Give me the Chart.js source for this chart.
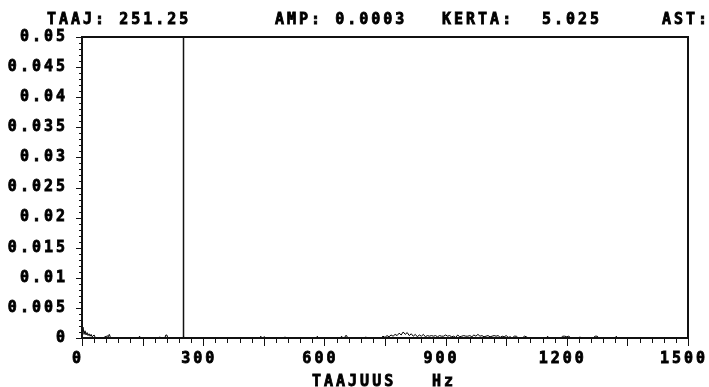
<!DOCTYPE html>
<html><head><meta charset="utf-8">
<script src="https://cdn.jsdelivr.net/npm/chart.js@4.4.0/dist/chart.umd.min.js"></script>
<style>html,body{margin:0;padding:0;background:#fff;}#wrap{width:709px;height:387px;}</style>
</head><body><div id="wrap"><canvas id="c" width="709" height="387"></canvas></div>
<script>
// ---- data ----
const freqs = [0,2.5,5,7.5,10,12.5,15,17.5,20,22.5,25,30,32.5,35,
  55,57.5,60,62.5,65,67.5,70,72.5,
  140,142.5,145,
  190,192.5,195,205,207.5,210,212.5,
  250,251.25,252.5,
  440,442.5,445,452.5,455,
  500,502.5,505,
  580,582.5,585,640,642.5,645,650,652.5,655,657.5,
  700,702.5,705,
  740,745,750,755,760,765,770,775,780,785,790,795,800,805,810,815,820,825,830,835,840,845,850,855,860,865,870,875,880,885,890,895,900,905,910,915,920,925,930,935,940,945,950,955,960,965,970,975,980,985,990,995,1000,1005,1010,1015,1020,1025,1030,1035,1040,1045,1050,1055,1060,1065,1070,1075,1080,
  1090,1095,1100,1105,
  1150,1152.5,1155,
  1185,1190,1195,1200,1205,1210,
  1230,1232.5,1235,
  1265,1270,1275,1280,
  1320,1322.5,1325,
  1500];
const amps = [0.0003,0.0018,0.0006,0.0012,0.0005,0.0009,0.0004,0.0007,0.0003,0.0006,0.0002,0.0005,0.0001,0,
  0,0.0003,0.0001,0.0004,0.0002,0.0006,0.0002,0,
  0,0.0003,0,
  0,0.0002,0,0,0.0005,0.0005,0,
  0,0.0003,0,
  0,0.0003,0,0.0002,0,
  0,0.0002,0,
  0,0.0003,0,0,0.0003,0,0,0.0004,0.0004,0,
  0,0.0002,0,
  0,0.0003,0.0001,0.0004,0.0002,0.0005,0.0003,0.0006,0.0004,0.0008,0.0005,0.001,0.0006,0.0009,0.0004,0.0007,0.0003,0.0006,0.0002,0.0005,0.0003,0.0006,0.0002,0.0004,0.0003,0.0004,0.0003,0.0004,0.0002,0.0004,0.0003,0.0003,0.0005,0.0003,0.0004,0.0002,0.0003,0.0001,0.0005,0.0002,0.0003,0.0004,0.0003,0.0003,0.0004,0.0002,0.0005,0.0003,0.0006,0.0003,0.0004,0.0002,0.0003,0.0004,0.0002,0.0003,0.0004,0.0003,0.0004,0.0001,0.0003,0.0002,0.0004,0.0001,0.0002,0,0.0003,0.0003,0,
  0,0.0003,0.0002,0,
  0,0.0003,0,
  0,0.0003,0.0003,0.0002,0.0003,0,
  0,0.0002,0,
  0,0.0003,0.0003,0,
  0,0.0003,0,
  0];
const cursorFreq = 251.25;
const cursorSpan = [0, 0.05];
const xTickValues = [0,300,600,900,1200,1500];
const xTickLabels = ['0','300','600','900','1200','1500'];
const yTickValues = [0,0.005,0.01,0.015,0.02,0.025,0.03,0.035,0.04,0.045,0.05];
const yTickLabels = ['0','0.005','0.01','0.015','0.02','0.025','0.03','0.035','0.04','0.045','0.05'];
const headerTexts = ['TAAJ: 251.25','AMP: 0.0003','KERTA:','5.025','AST:'];
const headerX = [47,275,442,542,662];
const xTitleTexts = ['TAAJUUS','Hz'];
const xTitleX = [312,432];

const FONT = 'bold 15px "DejaVu Sans Mono"';

const spectrum = freqs.map((f,i)=>({x:f,y:amps[i]}));
const cursor = cursorSpan.map(v=>({x:cursorFreq,y:v}));

const deco = {
  id:'deco',
  beforeDraw(chart){ chart.ctx.letterSpacing = '3px'; },
  afterDraw(chart){
    const ctx = chart.ctx, a = chart.chartArea;
    const xs = chart.scales.x, ys = chart.scales.y;
    ctx.save();
    ctx.strokeStyle = '#111';
    ctx.lineWidth = 1;
    for (let i=0;i<=50;i++){
      const py = Math.round(ys.getPixelForValue(i/1000)) + 0.5;
      const major = i%5===0;
      ctx.beginPath(); ctx.moveTo(major?76:79, py); ctx.lineTo(a.left+1, py); ctx.stroke();
    }
    for (let i=0;i<=50;i++){
      const px = Math.round(xs.getPixelForValue(i*30)) + 0.5;
      const major = (i*30)%150===0;
      ctx.beginPath(); ctx.moveTo(px, a.bottom-1); ctx.lineTo(px, a.bottom+(major?8:5)); ctx.stroke();
    }
    ctx.lineWidth = 2;
    ctx.strokeRect(a.left, a.top, a.right-a.left, a.bottom-a.top);
    ctx.fillStyle = '#000';
    ctx.strokeStyle = '#000';
    ctx.lineWidth = 0.8;
    ctx.font = FONT;
    ctx.letterSpacing = '3px';
    ctx.textAlign = 'left'; ctx.textBaseline = 'alphabetic';
    headerTexts.forEach((t,i)=>{ ctx.fillText(t, headerX[i], 24); ctx.strokeText(t, headerX[i], 24); });
    xTitleTexts.forEach((t,i)=>{ ctx.fillText(t, xTitleX[i], 386); ctx.strokeText(t, xTitleX[i], 386); });
    ctx.restore();
  }
};

new Chart(document.getElementById('c'), {
  type:'scatter',
  data:{datasets:[
    {data:spectrum, showLine:true, borderColor:'#000', borderWidth:1, pointRadius:0, tension:0},
    {data:cursor, showLine:true, borderColor:'#111', borderWidth:1.5, pointRadius:0}
  ]},
  options:{
    responsive:false, animation:false, devicePixelRatio:1,
    layout:{padding:{top:37,right:21,left:0,bottom:0}},
    plugins:{legend:{display:false}, tooltip:{enabled:false}},
    scales:{
      x:{type:'linear', min:0, max:1500,
        afterBuildTicks:s=>{ s.ticks = xTickValues.map(v=>({value:v})); },
        afterFit:s=>{ s.height = 49; s.paddingLeft = 0; s.paddingRight = 0; },
        grid:{display:false, drawTicks:false}, border:{display:false},
        ticks:{autoSkip:false, maxRotation:0, padding:12, labelOffset:-4, color:'#000',
          textStrokeColor:'#000', textStrokeWidth:0.8,
          font:{family:'DejaVu Sans Mono', size:15, weight:'bold'},
          callback:(v,i)=>xTickLabels[i]}
      },
      y:{type:'linear', min:0, max:0.05,
        afterBuildTicks:s=>{ s.ticks = yTickValues.map(v=>({value:v})); },
        afterFit:s=>{ s.width = 82; s.paddingTop = 0; s.paddingBottom = 0; },
        grid:{display:false, drawTicks:false}, border:{display:false},
        ticks:{autoSkip:false, padding:14, color:'#000',
          textStrokeColor:'#000', textStrokeWidth:0.8,
          font:{family:'DejaVu Sans Mono', size:15, weight:'bold'},
          callback:(v,i)=>yTickLabels[i]}
      }
    }
  },
  plugins:[deco]
});
</script></body></html>
